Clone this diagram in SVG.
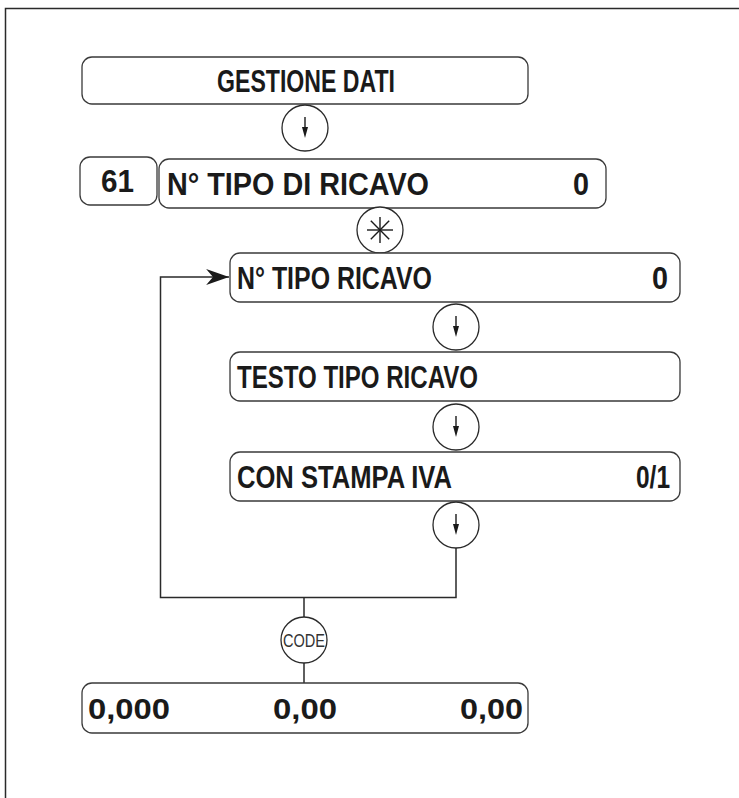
<svg xmlns="http://www.w3.org/2000/svg" width="739" height="798" viewBox="0 0 739 798">
<defs>
<style>
.box{fill:#fff;stroke:#3a3a3a;stroke-width:1.3}
.circ{fill:#fff;stroke:#2a2a2a;stroke-width:1.3}
.ln{fill:none;stroke:#2a2a2a;stroke-width:1.5}
.t{font-family:"Liberation Sans",Arial,sans-serif;font-weight:bold;font-size:31px;fill:#1a1a1a}
.n{font-family:"Liberation Sans",Arial,sans-serif;font-weight:bold;font-size:30px;fill:#1a1a1a}
.code{font-family:"Liberation Sans",Arial,sans-serif;font-size:18px;fill:#333}
</style>
<g id="down">
<circle class="circ" cx="0" cy="0" r="23"/>
<line x1="0" y1="-11" x2="0" y2="2" stroke="#1a1a1a" stroke-width="1.4"/>
<polygon points="-3,-1 3,-1 0,10" fill="#1a1a1a"/>
</g>
<marker id="arr" viewBox="0 0 20 14" refX="20" refY="7" markerWidth="36" markerHeight="16" markerUnits="userSpaceOnUse" orient="auto">
<path d="M0,0 L20,7 L0,14 L6,7 Z" fill="#1a1a1a"/>
</marker>
</defs>
<rect width="739" height="798" fill="#fff"/>
<g id="frame">
<path class="ln" d="M5.5,798 V8.5 H739" stroke-width="1.2"/>
</g>
<g id="connectors">
<path class="ln" d="M456,548 V597.5 H160.5 V277 H229" marker-end="url(#arr)"/>
<line class="ln" x1="304" y1="597" x2="304" y2="617"/>
<line class="ln" x1="304" y1="663" x2="304" y2="683"/>
</g>
<g id="gestione">
<rect class="box" x="82" y="57" width="446" height="47" rx="10"/>
<text class="t" x="217" y="92" textLength="178" lengthAdjust="spacingAndGlyphs">GESTIONE DATI</text>
</g>
<g id="key-down1"><use href="#down" x="305" y="128"/></g>
<g id="code61">
<rect class="box" x="80" y="157" width="77" height="48" rx="10"/>
<text class="t" x="101" y="192" textLength="33" lengthAdjust="spacingAndGlyphs">61</text>
</g>
<g id="tipo-di-ricavo">
<rect class="box" x="159" y="159" width="447" height="49" rx="10"/>
<text class="t" x="167" y="195" textLength="262" lengthAdjust="spacingAndGlyphs">N° TIPO DI RICAVO</text>
<text class="t" x="589" y="195" text-anchor="end" textLength="16" lengthAdjust="spacingAndGlyphs">0</text>
</g>
<g id="key-star">
<circle class="circ" cx="380" cy="230" r="23"/>
<g stroke="#1a1a1a" stroke-width="1.4">
<line x1="367" y1="230" x2="393" y2="230"/>
<line x1="380" y1="217" x2="380" y2="243"/>
<line x1="370.8" y1="220.8" x2="389.2" y2="239.2"/>
<line x1="370.8" y1="239.2" x2="389.2" y2="220.8"/>
</g>
</g>
<g id="tipo-ricavo">
<rect class="box" x="230" y="253" width="450" height="49" rx="10"/>
<text class="t" x="237" y="289" textLength="195" lengthAdjust="spacingAndGlyphs">N° TIPO RICAVO</text>
<text class="t" x="668" y="289" text-anchor="end" textLength="16" lengthAdjust="spacingAndGlyphs">0</text>
</g>
<g id="key-down2"><use href="#down" x="456" y="327"/></g>
<g id="testo">
<rect class="box" x="230" y="352" width="450" height="49" rx="10"/>
<text class="t" x="237" y="388" textLength="241" lengthAdjust="spacingAndGlyphs">TESTO TIPO RICAVO</text>
</g>
<g id="key-down3"><use href="#down" x="456" y="427"/></g>
<g id="stampa-iva">
<rect class="box" x="230" y="452" width="450" height="49" rx="10"/>
<text class="t" x="237" y="488" textLength="215" lengthAdjust="spacingAndGlyphs">CON STAMPA IVA</text>
<text class="t" x="670" y="488" text-anchor="end" textLength="34" lengthAdjust="spacingAndGlyphs">0/1</text>
</g>
<g id="key-down4"><use href="#down" x="456" y="525"/></g>
<g id="key-code">
<circle class="circ" cx="304" cy="640" r="23"/>
<text class="code" x="304" y="647" text-anchor="middle" textLength="42" lengthAdjust="spacingAndGlyphs">CODE</text>
</g>
<g id="totals">
<rect class="box" x="82" y="683" width="446" height="50" rx="10"/>
<text class="n" x="88" y="719" textLength="82" lengthAdjust="spacingAndGlyphs">0,000</text>
<text class="n" x="305" y="719" text-anchor="middle" textLength="64" lengthAdjust="spacingAndGlyphs">0,00</text>
<text class="n" x="523" y="719" text-anchor="end" textLength="63" lengthAdjust="spacingAndGlyphs">0,00</text>
</g>
</svg>
